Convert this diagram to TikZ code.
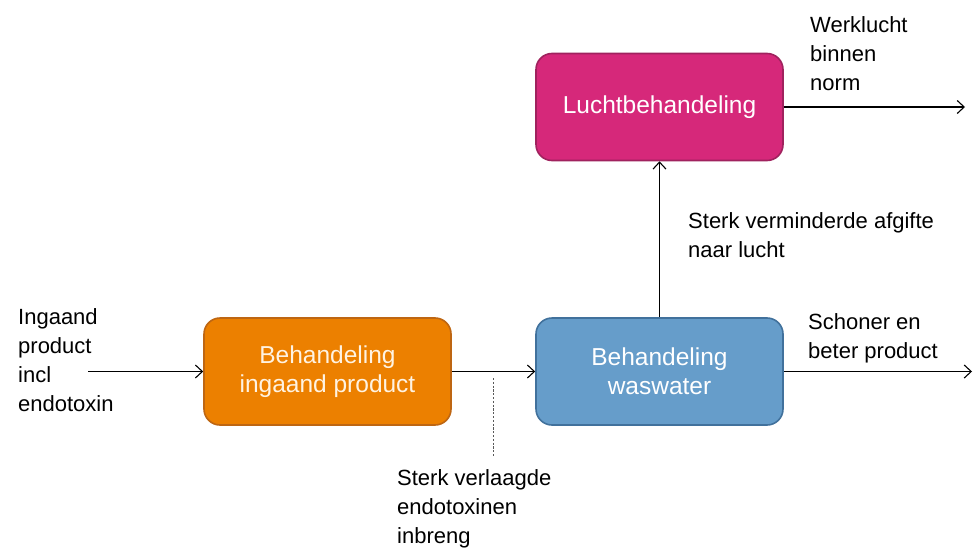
\documentclass[tikz,border=0pt]{standalone}
\usepackage{fontspec}
\setmainfont{Liberation Sans}
\usetikzlibrary{arrows.meta}
\definecolor{orfill}{RGB}{236,128,0}
\definecolor{ordraw}{RGB}{190,102,18}
\definecolor{blfill}{RGB}{102,157,202}
\definecolor{bldraw}{RGB}{65,113,156}
\definecolor{pkfill}{RGB}{214,40,122}
\definecolor{pkdraw}{RGB}{160,34,94}
\definecolor{ortext}{RGB}{255,243,226}
\begin{document}
\begin{tikzpicture}[x=1pt,y=-1pt,
  procbox/.style={rounded corners=16pt, line width=1.6pt, minimum width=247pt, minimum height=107pt,
    align=center, inner sep=0pt, font=\fontsize{24.5}{29}\selectfont, text=white},
  lbl/.style={anchor=base west, align=left, inner sep=0pt, font=\fontsize{22}{29}\selectfont},
  flow/.style={line width=1.1pt, -{Straight Barb[length=7pt,width=13pt]}}]
\useasboundingbox (0,0) rectangle (976,551);
\node[procbox, fill=orfill, draw=ordraw, text=ortext] (pre) at (327.5,371.5) {Behandeling\\ingaand product};
\node[procbox, fill=blfill, draw=bldraw] (wash) at (659.5,371.5) {Behandeling\\waswater};
\node[procbox, fill=pkfill, draw=pkdraw] (air) at (659.5,107) {Luchtbehandeling};
\coordinate (in) at (88,371.5);
\coordinate (outp) at (972,371.5);
\coordinate (outa) at (965,107);
\coordinate (dtop) at (493,378);
\coordinate (dbot) at (493,456);
\node[lbl] (lin) at (18,411) {Ingaand\\product\\incl\\endotoxin};
\node[lbl] (lwerk) at (810,90) {Werklucht\\binnen\\norm};
\node[lbl] (lafg) at (688,257) {Sterk verminderde afgifte\\naar lucht};
\node[lbl] (lschoon) at (808,358) {Schoner en\\beter product};
\node[lbl] (lverl) at (397,543) {Sterk verlaagde\\endotoxinen\\inbreng};
\draw[flow] (in) -- (pre.west);
\draw[flow] (pre.east) -- (wash.west);
\draw[flow] (wash.north) -- (air.south);
\draw[flow] (wash.east) -- (outp);
\draw[flow] (air.east) -- (outa);
\draw[line width=0.9pt, gray!70!black, dash pattern=on 2.2pt off 1.6pt] (dtop) -- (dbot);
\end{tikzpicture}
\end{document}
